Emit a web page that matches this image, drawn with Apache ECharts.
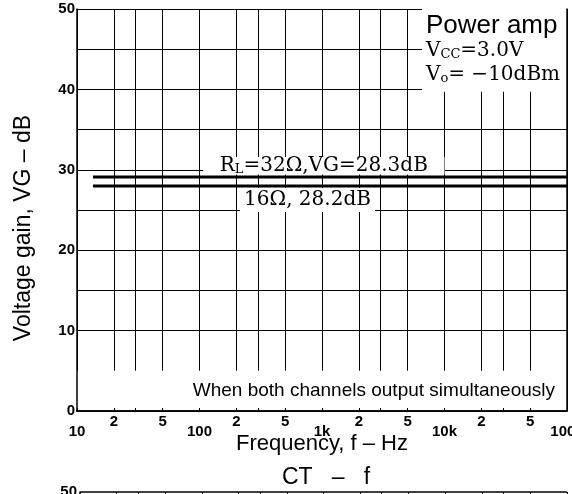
<!DOCTYPE html>
<html>
<head>
<meta charset="utf-8">
<script src="https://cdn.jsdelivr.net/npm/echarts@6/dist/echarts.min.js"></script>
<style>
  html, body { margin: 0; padding: 0; background: #fff; }
  #chart { width: 572px; height: 494px; }
</style>
</head>
<body>
<div id="chart"></div>
<script>
// data
var curveFreq = [13.5, 100000];
var vg32 = [29.1, 29.1];
var vg16 = [28.0, 28.0];
var gridFreq = [10, 20, 30, 50, 100, 200, 300, 500, 1000, 2000, 3000, 5000,
  10000, 20000, 30000, 50000, 100000];
var majorFreq = [10, 100, 1000, 10000, 100000];
var majorText = ['10', '100', '1k', '10k', '100k'];
var minorFreq = [20, 50, 200, 500, 2000, 5000, 20000, 50000];

var tickFont = '"Liberation Sans", Arial, sans-serif';
var sansFont = '"Liberation Sans", Arial, sans-serif';
var serifFont = '"DejaVu Serif", serif';

function pairs(xs, ys) {
  return xs.map(function (x, i) { return [x, ys[i]]; });
}

var myChart = echarts.init(document.getElementById('chart'));

function logAxis(extra) {
  var base = {
    type: 'log', logBase: 10, min: 10, max: 100000,
    position: 'bottom',
    axisLine: { show: false },
    axisTick: { show: false },
    axisLabel: { show: false },
    splitLine: { show: false }
  };
  return Object.assign(base, extra);
}

var option = {
  animation: false,
  backgroundColor: '#fff',
  title: {
    text: 'CT   \u2013   f',
    left: 277, top: 461,
    textStyle: { fontFamily: sansFont, fontSize: 23, fontWeight: 'normal', color: '#000' }
  },
  grid: [
    { left: 77, right: 5, top: 9, bottom: 83, outerBoundsMode: 'none' },
    { left: 80, right: 5, top: 492, height: 300, outerBoundsMode: 'none' }
  ],
  xAxis: [
    // grid lines + decade labels
    logAxis({
      gridIndex: 0,
      axisTick: { show: false, customValues: gridFreq },
      splitLine: { show: true, lineStyle: { color: '#000', width: 1 } },
      axisLabel: {
        show: true, customValues: majorFreq, margin: 13,
        color: '#000', fontFamily: tickFont, fontSize: 15, fontWeight: 'bold',
        formatter: function (v) {
          var i = majorFreq.indexOf(Math.round(v));
          return i >= 0 ? majorText[i] : '';
        }
      },
      name: 'Frequency, f \u2013 Hz',
      nameLocation: 'middle', nameGap: 22, nameMoveOverlap: false,
      nameTextStyle: { fontFamily: sansFont, fontSize: 22, color: '#000' }
    }),
    // bottom border, small ticks, 2 / 5 labels
    logAxis({
      gridIndex: 0, z: 5,
      axisLine: { show: true, lineStyle: { color: '#000', width: 1.5 } },
      axisTick: { show: true, inside: true, length: 3, customValues: gridFreq, lineStyle: { color: '#000' } },
      axisLabel: {
        show: true, customValues: minorFreq, margin: 3,
        color: '#000', fontFamily: tickFont, fontSize: 15, fontWeight: 'bold',
        formatter: function (v) {
          var d = Math.pow(10, Math.floor(Math.log10(v) + 1e-9));
          return String(Math.round(v / d));
        }
      }
    }),
    // top border
    logAxis({
      gridIndex: 0, z: 5, position: 'top',
      axisLine: { show: true, lineStyle: { color: '#000', width: 1.5 } }
    }),
    // lower chart (CT - f), only its top edge is in view
    logAxis({
      gridIndex: 1,
      axisTick: { show: false, customValues: gridFreq },
      splitLine: { show: true, lineStyle: { color: '#000', width: 1 } }
    })
  ],
  yAxis: [
    {
      gridIndex: 0, type: 'value', min: 0, max: 50, interval: 5, position: 'left',
      axisLine: { show: false },
      axisTick: { show: false },
      splitLine: { show: true, lineStyle: { color: '#000', width: 1 } },
      axisLabel: {
        margin: 2, color: '#000', fontFamily: tickFont, fontSize: 15, fontWeight: 'bold',
        formatter: function (v) { return v % 10 === 0 ? String(v) : ''; }
      },
      name: 'Voltage gain, VG \u2013 dB',
      nameLocation: 'middle', nameGap: 42, nameMoveOverlap: false,
      nameTextStyle: { fontFamily: sansFont, fontSize: 23, color: '#000', padding: [0, 36, 0, 0] }
    },
    {
      gridIndex: 0, type: 'value', min: 0, max: 50, z: 5, position: 'left',
      axisLine: { show: true, lineStyle: { color: '#000', width: 1.5 } },
      axisTick: { show: false }, axisLabel: { show: false }, splitLine: { show: false }
    },
    {
      gridIndex: 0, type: 'value', min: 0, max: 50, z: 5, position: 'right',
      axisLine: { show: true, lineStyle: { color: '#000', width: 1.5 } },
      axisTick: { show: false }, axisLabel: { show: false }, splitLine: { show: false }
    },
    {
      gridIndex: 1, type: 'value', min: 0, max: 50, interval: 5, position: 'left',
      axisLine: { show: true, lineStyle: { color: '#000', width: 1.5 } },
      axisTick: { show: false },
      splitLine: { show: true, lineStyle: { color: '#000', width: 1.5 } },
      axisLabel: {
        margin: 3, color: '#000', fontFamily: tickFont, fontSize: 15, fontWeight: 'bold',
        formatter: function (v) { return v % 10 === 0 ? String(v) : ''; }
      }
    }
  ],
  series: [
    {
      // white label boxes that hide the grid
      type: 'line', xAxisIndex: 0, yAxisIndex: 0, data: [], z: 2,
      markArea: {
        silent: true,
        itemStyle: { color: '#fff', opacity: 1 },
        data: [
          [{
            xAxis: 6550, yAxis: 39.7,
            label: {
              show: true, position: 'insideTopLeft', distance: 4, color: '#000',
              formatter: '{p|Power amp}\n{t|V}{s|CC}{t|=3.0V}\n{t|V}{s|o}{t|= \u221210dBm}',
              rich: {
                p: { fontFamily: sansFont, fontSize: 26, lineHeight: 26 },
                t: { fontFamily: serifFont, fontSize: 20, lineHeight: 24 },
                s: { fontFamily: serifFont, fontSize: 13, lineHeight: 24, padding: [8, 0, 0, 0] }
              }
            }
          }, { xAxis: 100000, yAxis: 50 }],
          [{
            xAxis: 107, yAxis: 29.4,
            label: {
              show: true, position: 'inside', color: '#000',
              formatter: '{t|R}{s|L}{t|=32\u03a9,VG=28.3dB}',
              rich: {
                t: { fontFamily: serifFont, fontSize: 20, lineHeight: 20 },
                s: { fontFamily: serifFont, fontSize: 13, lineHeight: 20, padding: [8, 0, 0, 0] }
              }
            }
          }, { xAxis: 10000, yAxis: 31.6 }],
          [{
            xAxis: 214, yAxis: 24.75,
            label: {
              show: true, position: 'inside', color: '#000',
              formatter: '16\u03a9, 28.2dB',
              fontFamily: serifFont, fontSize: 20
            }
          }, { xAxis: 2710, yAxis: 27.75 }],
          [{
            xAxis: 10, yAxis: 0,
            label: {
              show: true, position: 'insideRight', distance: 12, color: '#000',
              formatter: 'When both channels output simultaneously',
              fontFamily: sansFont, fontSize: 19
            }
          }, { xAxis: 100000, yAxis: 5 }]
        ]
      }
    },
    {
      name: 'RL=32', type: 'line', xAxisIndex: 0, yAxisIndex: 0, z: 3,
      data: pairs(curveFreq, vg32), symbol: 'none',
      lineStyle: { color: '#000', width: 3 }
    },
    {
      name: '16', type: 'line', xAxisIndex: 0, yAxisIndex: 0, z: 3,
      data: pairs(curveFreq, vg16), symbol: 'none',
      lineStyle: { color: '#000', width: 3 }
    }
  ]
};

myChart.setOption(option);
</script>
</body>
</html>
